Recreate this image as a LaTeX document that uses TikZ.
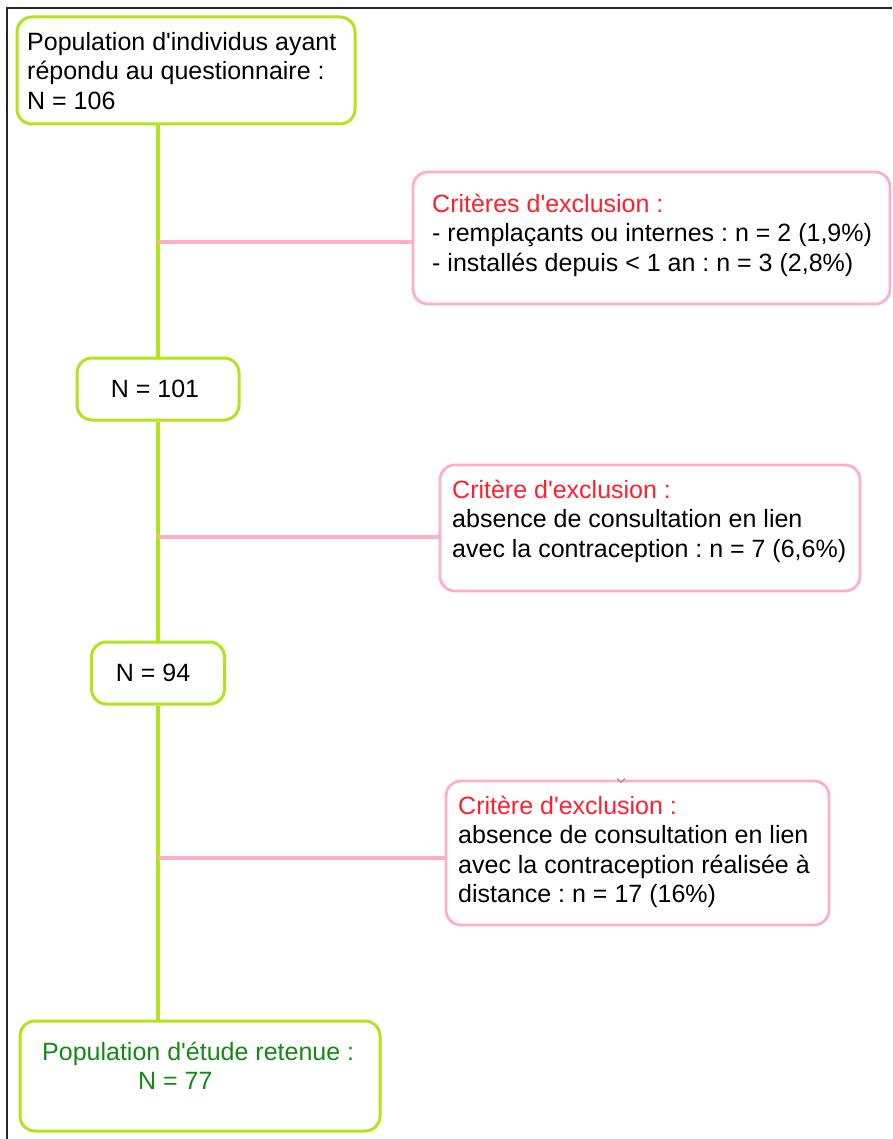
\documentclass[tikz,border=0pt]{standalone}
\usepackage{fontspec}
\setmainfont{Liberation Sans}
\frenchspacing
\definecolor{lgreen}{HTML}{B2E31E}
\definecolor{lpink}{HTML}{FFADC8}
\definecolor{xred}{HTML}{FF1F2F}
\definecolor{dgreen}{HTML}{138A13}
\newcommand{\qs}{\textquotesingle}
\tikzset{
  gbox/.style={draw=lgreen, line width=3pt, rounded corners=15pt, inner sep=0pt},
  pbox/.style={draw=lpink, line width=2.8pt, rounded corners=15pt, inner sep=0pt},
  gline/.style={draw=lgreen, line width=3.6pt},
  pline/.style={draw=lpink, line width=3.4pt},
  txt/.style={align=left, inner sep=0pt, font=\fontsize{25}{29.5}\selectfont},
}
\begin{document}
\begin{tikzpicture}[x=1pt,y=-1pt]
\useasboundingbox (0,0) rectangle (892,1139);
\fill[white] (0,0) rectangle (892,1139);
\draw[black!85, line width=1.2pt] (7,1139) -- (7,8) -- (892,8);
% boxes
\node[gbox, minimum width=338pt, minimum height=107pt] (b1) at (186,70.5) {};
\node[txt, anchor=west] (t1) at (27,71) {Population d\qs individus ayant\\répondu au questionnaire :\\N = 106};
\node[gbox, minimum width=162pt, minimum height=62pt, font=\fontsize{25}{29.5}\selectfont] (n101) at (158,389) {\hspace*{-6pt}N = 101};
\node[gbox, minimum width=133pt, minimum height=62pt, font=\fontsize{25}{29.5}\selectfont] (n94) at (158,673) {\hspace*{-10pt}N = 94};
\node[gbox, minimum width=360pt, minimum height=110pt] (fin) at (200,1076) {};
\node[txt, anchor=west, text=dgreen] (tf) at (42,1066) {Population d\qs étude retenue :\\\hspace*{96pt}N = 77};
% exclusion boxes
\node[pbox, minimum width=477pt, minimum height=132pt] (e1) at (651.5,238) {};
\node[txt, anchor=west] (te1) at (432,235) {\textcolor{xred}{Critères d\qs exclusion :}\\- remplaçants ou internes : n = 2 (1,9\%)\\- installés depuis < 1 an : n = 3 (2,8\%)};
\node[pbox, minimum width=420pt, minimum height=126pt] (e2) at (650,528) {};
\node[txt, anchor=west] (te2) at (452,521) {\textcolor{xred}{Critère d\qs exclusion :}\\absence de consultation en lien\\avec la contraception : n = 7 (6,6\%)};
\node[pbox, minimum width=383pt, minimum height=144pt] (e3) at (637.5,853) {};
\node[txt, anchor=west] (te3) at (458,852) {\textcolor{xred}{Critère d\qs exclusion :}\\absence de consultation en lien\\avec la contraception réalisée à\\distance : n = 17 (16\%)};
% trunk
\draw[gline] (b1.south -| n101.north) -- (n101.north);
\draw[gline] (n101.south) -- (n94.north);
\draw[gline] (n94.south) -- (fin.north -| n94.south);
% branches
\draw[pline] ([yshift=-4pt]e1.west -| n101.north) -- ([yshift=-4pt]e1.west);
\draw[pline] ([yshift=-9pt]e2.west -| n101.north) -- ([yshift=-9pt]e2.west);
\draw[pline] ([yshift=-5pt]e3.west -| n101.north) -- ([yshift=-5pt]e3.west);
% small chevron mark
\draw[black!45, line width=0.8pt] (617,778.5) -- (621,782.5) -- (625,778.5);
\end{tikzpicture}
\end{document}
